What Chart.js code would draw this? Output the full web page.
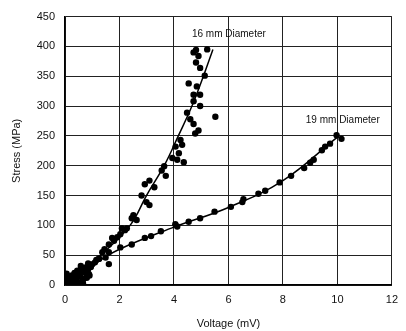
<!DOCTYPE html>
<html>
<head>
<meta charset="utf-8">
<script src="https://cdn.jsdelivr.net/npm/chart.js@4/dist/chart.umd.min.js"></script>
<style>
  html, body { margin: 0; padding: 0; background: #fff; }
  #wrap { width: 406px; height: 331px; }
</style>
</head>
<body>
<div id="wrap"><canvas id="myChart" width="406" height="331"></canvas></div>
<script>
// 16 mm diameter measurements (voltage mV, stress MPa)
const volt16 = [4.81, 5.22, 4.72, 4.90, 4.81, 4.96, 5.13, 4.54, 4.84, 4.96, 4.72, 4.96, 4.72, 5.52, 4.48, 4.60, 4.72, 4.90, 4.78,
  4.24, 4.30, 4.06, 4.18, 3.94, 4.36, 4.12, 3.64, 3.70, 3.55, 3.10, 2.93, 3.28, 2.81, 2.99, 3.10, 2.51, 2.63, 2.27, 2.09, 2.03,
  1.73, 1.61, 1.37, 1.49, 1.61, 1.25, 1.01, 0.78, 0.60, 0.06, 0.06, 0.30, 0.42, 0.66, 0.54, 0.84, 0.90, 0.18, 0.00,
  0.12, 0.24, 0.36, 0.48, 0.70, 0.80, 0.95, 1.10, 0.20, 0.40, 0.55, 0.65, 0.75, 0.03, 0.15, 0.28,
  0.45, 0.58, 0.68, 0.85, 1.15, 0.35, 0.50, 0.62, 0.72, 0.88, 0.10, 0.25, 1.45, 1.80, 1.92, 2.20, 2.45];
const stress16 = [394, 395, 390, 384, 373, 364, 351, 338, 333, 319, 319, 300, 308, 282, 289, 278, 270, 259, 254,
  243, 235, 232, 221, 213, 206, 210, 199, 183, 192, 175, 169, 164, 150, 139, 134, 117, 109, 95, 95, 85,
  79, 68, 55, 46, 35, 44, 35, 30, 25, 19, 8, 14, 5, 3, 19, 25, 16, 3, 0,
  10, 6, 12, 18, 22, 12, 30, 38, 2, 8, 14, 28, 20, 14, 4, 9,
  24, 32, 10, 36, 42, 20, 4, 6, 26, 18, 1, 16, 60, 74, 80, 92, 112];

// 19 mm diameter measurements
const volt19 = [0.30, 0.66, 1.25, 1.61, 2.03, 2.45, 2.93, 3.16, 3.52, 4.12, 4.54, 4.96, 5.49, 6.09, 6.51, 7.10, 7.35,
  7.88, 8.30, 8.78, 9.13, 9.43, 9.73, 9.97, 10.15, 4.05, 6.55, 9.00, 9.55];
const stress19 = [11, 25, 44, 55, 63, 68, 79, 82, 90, 98, 106, 112, 123, 131, 139, 153, 158,
  172, 183, 196, 210, 226, 237, 251, 245, 102, 144, 205, 232];

// fitted curves
const fitX16 = [0, 1.31, 2.39, 2.99, 3.64, 4.16, 4.66, 5.08, 5.43];
const fitY16 = [0, 50, 100, 150, 200, 250, 300, 350, 395];
const fitX19 = [0, 1, 2, 4, 6, 8, 10];
const fitY19 = [0, 33, 60, 97, 130, 175, 248];

// curve labels
const labelText = ["16 mm Diameter", "19 mm Diameter"];
const labelX = [4.66, 8.84];
const labelY = [421, 276];

const xTicks = [0, 2, 4, 6, 8, 10, 12];

function pts(xs, ys) {
  return xs.map((x, i) => ({ x: x, y: ys[i] }));
}

const labelPlugin = {
  id: "curveLabels",
  afterDatasetsDraw(chart) {
    const c = chart.ctx;
    const sx = chart.scales.x, sy = chart.scales.y;
    c.save();
    c.fillStyle = "#111";
    c.font = "10px 'Liberation Sans', Arial, sans-serif";
    c.textBaseline = "middle";
    labelText.forEach((t, i) => {
      c.fillText(t, sx.getPixelForValue(labelX[i]), sy.getPixelForValue(labelY[i]));
    });
    c.restore();
  }
};

Chart.defaults.font.family = "'Liberation Sans', Arial, sans-serif";
Chart.defaults.color = "#111";

var ctx = document.getElementById("myChart").getContext("2d");
let myChart = new Chart(ctx, {
  type: "scatter",
  data: {
    datasets: [
      { data: pts(fitX16, fitY16), showLine: true, tension: 0.4, borderColor: "#000", borderWidth: 1.5, pointRadius: 0 },
      { data: pts(fitX19, fitY19), showLine: true, tension: 0.4, borderColor: "#000", borderWidth: 1.5, pointRadius: 0 },
      { data: pts(volt16, stress16), pointRadius: 3.2, backgroundColor: "#000", borderColor: "#000", borderWidth: 0 },
      { data: pts(volt19, stress19), pointRadius: 3.2, backgroundColor: "#000", borderColor: "#000", borderWidth: 0 }
    ]
  },
  options: {
    responsive: false,
    animation: false,
    layout: { padding: { top: 10, right: 6, left: 0, bottom: 0 } },
    plugins: { legend: { display: false }, tooltip: { enabled: false } },
    scales: {
      x: {
        type: "linear",
        min: 0, max: 12,
        afterBuildTicks: s => { s.ticks = xTicks.map(v => ({ value: v })); },
        grid: { color: "#222", lineWidth: 1, drawTicks: false },
        border: { color: "#000", width: 1.5 },
        ticks: { padding: 8, font: { size: 11 }, color: "#111" },
        title: { display: true, text: "Voltage (mV)", font: { size: 11 }, color: "#111", padding: { top: 4, bottom: 0 } },
        afterFit: s => { s.height = 46; }
      },
      y: {
        min: 0, max: 450,
        ticks: { stepSize: 50, padding: 10, font: { size: 11 }, color: "#111" },
        grid: { color: "#222", lineWidth: 1, drawTicks: false },
        border: { color: "#000", width: 1.5 },
        title: { display: true, text: "Stress (MPa)", font: { size: 11 }, color: "#111", padding: { top: 10, bottom: 8 } },
        afterFit: s => { s.width = 65; }
      }
    }
  },
  plugins: [labelPlugin]
});
</script>
</body>
</html>
